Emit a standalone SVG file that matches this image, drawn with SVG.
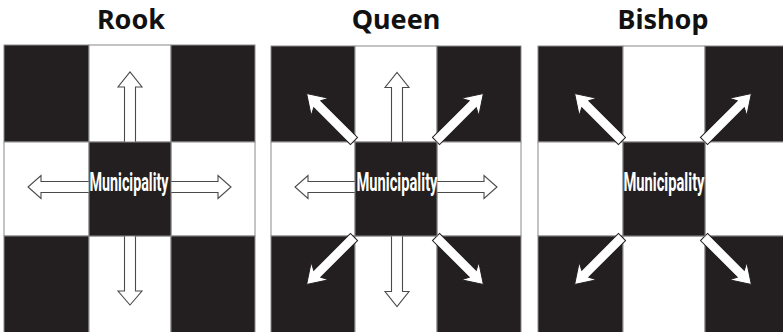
<svg xmlns="http://www.w3.org/2000/svg" width="783" height="332" viewBox="0 0 783 332">
<style>
.title{font-family:"Noto Sans","Open Sans",sans-serif;font-weight:bold;font-size:27px;fill:#111;text-anchor:middle}
.b{fill:#231f20;stroke:#8a8a8a;stroke-width:1}
.w{fill:#fff;stroke:#8a8a8a;stroke-width:1}
.lbl{font-family:"Roboto","Liberation Sans",sans-serif;font-weight:bold;font-size:26px;fill:#fff;text-anchor:middle}
.hollow{fill:#fff;stroke:#4a4a4a;stroke-width:1.1}
.solid{fill:#fff;stroke:#231f20;stroke-width:1}
</style>
<defs>
<path id="diag" d="M0,-5 H52 L48,-12.5 L67,0 L48,12.5 L52,5 H0 Z"/>
</defs>
<rect width="783" height="332" fill="#fff"/>
<text class="title" x="131" y="29">Rook</text>
<text class="title" x="396" y="29">Queen</text>
<text class="title" x="663" y="29">Bishop</text>

<g id="rook">
<rect class="b" x="4" y="45" width="85" height="97"/>
<rect class="w" x="89" y="45" width="82" height="97"/>
<rect class="b" x="171" y="45" width="84" height="97"/>
<rect class="w" x="4" y="142" width="85" height="94"/>
<rect class="w" x="171" y="142" width="84" height="94"/>
<rect class="b" x="4" y="236" width="85" height="97"/>
<rect class="w" x="89" y="236" width="82" height="97"/>
<rect class="b" x="171" y="236" width="84" height="97"/>
</g>
<g id="queen">
<rect class="b" x="271" y="46" width="84" height="96"/>
<rect class="w" x="355" y="46" width="82" height="96"/>
<rect class="b" x="437" y="46" width="84" height="96"/>
<rect class="w" x="271" y="142" width="84" height="94"/>
<rect class="w" x="437" y="142" width="84" height="94"/>
<rect class="b" x="271" y="236" width="84" height="97"/>
<rect class="w" x="355" y="236" width="82" height="97"/>
<rect class="b" x="437" y="236" width="84" height="97"/>
</g>
<g id="bishop">
<rect class="b" x="538" y="46" width="85" height="96"/>
<rect class="w" x="623" y="46" width="82" height="96"/>
<rect class="b" x="705" y="46" width="84" height="96"/>
<rect class="w" x="538" y="142" width="85" height="94"/>
<rect class="w" x="705" y="142" width="84" height="94"/>
<rect class="b" x="538" y="236" width="85" height="97"/>
<rect class="w" x="623" y="236" width="82" height="97"/>
<rect class="b" x="705" y="236" width="84" height="97"/>
</g>

<g id="connectors">
<path class="hollow" d="M124.5,142 V87 H118 L130,72 L142,87 H135.5 V142"/>
<path class="hollow" d="M124.5,236 V291 H118 L130,305 L142,291 H135.5 V236"/>
<path class="hollow" d="M89,181.5 H41 V175.5 L28,187 L41,198.5 V192.5 H89"/>
<path class="hollow" d="M171,181.5 H218 V175.5 L231,187 L218,198.5 V192.5 H171"/>

<path class="hollow" d="M391.5,142 V87.5 H385 L397,72.5 L409,87.5 H402.5 V142"/>
<path class="hollow" d="M391.5,236 V291.5 H385 L397,306.5 L409,291.5 H402.5 V236"/>
<path class="hollow" d="M355,181.5 H308 V175.5 L295,187 L308,198.5 V192.5 H355"/>
<path class="hollow" d="M437,181.5 H484 V175.5 L497,187 L484,198.5 V192.5 H437"/>
<use href="#diag" class="solid" transform="translate(354,141) rotate(-135)"/>
<use href="#diag" class="solid" transform="translate(436,141) rotate(-45)"/>
<use href="#diag" class="solid" transform="translate(354,237) rotate(135)"/>
<use href="#diag" class="solid" transform="translate(436,237) rotate(45)"/>

<use href="#diag" class="solid" transform="translate(622,141) rotate(-135)"/>
<use href="#diag" class="solid" transform="translate(704,141) rotate(-45)"/>
<use href="#diag" class="solid" transform="translate(622,237) rotate(135)"/>
<use href="#diag" class="solid" transform="translate(704,237) rotate(45)"/>
</g>

<g id="rook-center">
<rect class="b" x="89" y="142" width="82" height="94"/>
<text class="lbl" x="129" y="191" textLength="79" lengthAdjust="spacingAndGlyphs">Municipality</text>
</g>
<g id="queen-center">
<rect class="b" x="355" y="142" width="82" height="94"/>
<text class="lbl" x="397" y="191" textLength="81" lengthAdjust="spacingAndGlyphs">Municipality</text>
</g>
<g id="bishop-center">
<rect class="b" x="623" y="142" width="82" height="94"/>
<text class="lbl" x="664" y="191" textLength="81" lengthAdjust="spacingAndGlyphs">Municipality</text>
</g>
</svg>
